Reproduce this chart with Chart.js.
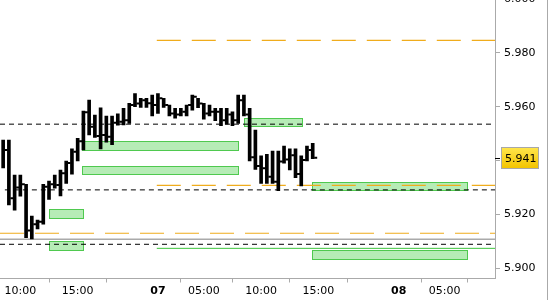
<!DOCTYPE html>
<html>
<head>
<meta charset="utf-8">
<script src="https://cdn.jsdelivr.net/npm/chart.js@4.4.1/dist/chart.umd.min.js"></script>
<style>
  html, body { margin: 0; padding: 0; background: #fff; overflow: hidden; }
  #wrap { position: absolute; left: 0; top: 0; width: 547px; height: 300px; border-right: 1px solid #aaa; }
</style>
</head>
<body>
<div id="wrap"><canvas id="chart"></canvas></div>
<script>
// half-hour bars, x in bar slots (slot 0 = 10:00 on the 6th, session gap 22:00-01:00 removed)
const firstSlot = -3;
const highs = [5.9476, 5.9476, 5.9346, 5.9346, 5.9312, 5.9194, 5.9179, 5.9312, 5.9324, 5.9346,
  5.9365, 5.9398, 5.9443, 5.9482, 5.9584, 5.9624, 5.9569, 5.9596, 5.9565, 5.9565,
  5.9573, 5.9594, 5.9612, 5.9649, 5.9631, 5.9631, 5.9643, 5.9649, 5.9631, 5.9606,
  5.9594, 5.9594, 5.9606, 5.9643, 5.9631, 5.9612, 5.9606, 5.9594, 5.9594, 5.9594,
  5.9581, 5.9643, 5.9643, 5.9594, 5.9513, 5.9417, 5.9423, 5.9435, 5.9435, 5.9454,
  5.9443, 5.9443, 5.9417, 5.9454, 5.9464];
const lows = [5.9373, 5.9235, 5.9216, 5.9268, 5.9114, 5.9109, 5.9146, 5.9164, 5.9256, 5.9297,
  5.9269, 5.9315, 5.9349, 5.9399, 5.9439, 5.9495, 5.9486, 5.9443, 5.9468, 5.9459,
  5.9531, 5.9532, 5.9538, 5.9600, 5.9597, 5.9597, 5.9566, 5.9575, 5.9597, 5.9566,
  5.9557, 5.9566, 5.9566, 5.9587, 5.9596, 5.9554, 5.9566, 5.9548, 5.9529, 5.9535,
  5.9529, 5.9538, 5.9566, 5.9399, 5.9367, 5.9315, 5.9315, 5.9315, 5.9288, 5.9390,
  5.9365, 5.9336, 5.9306, 5.9399, 5.9407];
const closes = [5.9439, 5.9260, 5.9300, 5.9312, 5.9140, 5.9163, 5.9173, 5.9303, 5.9312, 5.9309,
  5.9353, 5.9391, 5.9433, 5.9472, 5.9579, 5.9525, 5.9491, 5.9495, 5.9488, 5.9540,
  5.9544, 5.9550, 5.9606, 5.9612, 5.9624, 5.9613, 5.9606, 5.9631, 5.9606, 5.9575,
  5.9571, 5.9581, 5.9606, 5.9637, 5.9612, 5.9575, 5.9581, 5.9581, 5.9550, 5.9571,
  5.9550, 5.9624, 5.9571, 5.9412, 5.9380, 5.9371, 5.9340, 5.9321, 5.9396, 5.9404,
  5.9420, 5.9350, 5.9402, 5.9439, 5.9410];

const xMin = -3.55;
const xMax = 82.8;
const xTickSlots = [0, 10, 20, 24, 32, 42, 52, 62, 66, 74];
const xTickLabels = ["10:00", "15:00", "", "07", "05:00", "10:00", "15:00", "", "08", "05:00"];
const dayLabels = ["07", "08"];
const yTicks = [5.90, 5.92, 5.94, 5.96, 5.98, 6.00];

// horizontal levels
const blackLevels = [5.9535, 5.9291, 5.9089];
const blackStarts = [xMin, -2.7, xMin];
const orangeLevels = [5.9846, 5.9308, 5.9130];
const orangeStarts = [23.8, 23.8, xMin];
const grayLevels = [5.9108];
const grayStarts = [xMin];
const greenLevels = [5.9074];
const greenStarts = [23.8];

// zones (boxes)
const zoneFrom = [10.74, 10.74, 4.99, 4.99, 39.04, 50.9, 50.9];
const zoneTo = [37.94, 37.94, 10.86, 10.86, 49.05, 78.0, 78.0];
const zoneTop = [5.9471, 5.9378, 5.9219, 5.9100, 5.9558, 5.9319, 5.9067];
const zoneBottom = [5.9438, 5.9349, 5.9186, 5.9067, 5.9529, 5.9289, 5.9036];

const lastPrice = closes[closes.length - 1];

Chart.defaults.font.family = "'DejaVu Sans', Verdana, sans-serif";
Chart.defaults.font.size = 11;
Chart.defaults.color = "#000";

function levelSets(levels, starts, color, dash, width) {
  return levels.map((lv, i) => ({
    type: "line",
    data: [{ x: starts[i], y: lv }, { x: xMax, y: lv }],
    borderColor: color,
    borderWidth: width,
    borderDash: dash,
    pointRadius: 0,
    fill: false,
    order: 2,
  }));
}

const zonesPlugin = {
  id: "zones",
  beforeDatasetsDraw(chart) {
    const { ctx, chartArea, scales } = chart;
    ctx.save();
    ctx.beginPath();
    ctx.rect(chartArea.left, chartArea.top, chartArea.width, chartArea.height);
    ctx.clip();
    for (let i = 0; i < zoneFrom.length; i++) {
      const x1 = Math.round(scales.x.getPixelForValue(zoneFrom[i])) + 0.5;
      const x2 = Math.round(scales.x.getPixelForValue(zoneTo[i])) + 0.5;
      const y1 = Math.round(scales.y.getPixelForValue(zoneTop[i])) + 0.5;
      const y2 = Math.round(scales.y.getPixelForValue(zoneBottom[i])) + 0.5;
      ctx.fillStyle = "#b6ecb6";
      ctx.fillRect(x1, y1, x2 - x1, y2 - y1);
      ctx.strokeStyle = "#4fc94f";
      ctx.lineWidth = 1;
      ctx.strokeRect(x1, y1, x2 - x1, y2 - y1);
    }
    ctx.restore();
  },
};

const priceTagPlugin = {
  id: "priceTag",
  afterDraw(chart) {
    const { ctx, chartArea, scales } = chart;
    const y = Math.round(scales.y.getPixelForValue(lastPrice));
    const left = chartArea.right + 6;
    ctx.save();
    ctx.strokeStyle = "#000";
    ctx.lineWidth = 1;
    ctx.beginPath();
    ctx.moveTo(chartArea.right, y + 0.5);
    ctx.lineTo(chartArea.right + 5, y + 0.5);
    ctx.stroke();
    const grad = ctx.createLinearGradient(0, y - 10, 0, y + 10);
    grad.addColorStop(0, "#ffe54a");
    grad.addColorStop(1, "#f3c400");
    ctx.fillStyle = grad;
    ctx.fillRect(left + 0.5, y - 10.5, 37, 21);
    ctx.strokeStyle = "#a8a8a8";
    ctx.strokeRect(left + 0.5, y - 10.5, 37, 21);
    ctx.fillStyle = "#000";
    ctx.font = "11px 'DejaVu Sans', Verdana, sans-serif";
    ctx.textBaseline = "middle";
    ctx.fillText(lastPrice.toFixed(3), left + 4, y + 1);
    ctx.restore();
  },
};

const barData = highs.map((h, i) => ({ x: firstSlot + i, y: [lows[i], h] }));
const closeData = closes.map((c, i) => ({ x: firstSlot + i + 0.52, y: c }));

const isDay = (label) => dayLabels.includes(label);

new Chart(document.getElementById("chart"), {
  data: {
    datasets: [
      {
        type: "bar",
        data: barData,
        backgroundColor: "#000",
        borderWidth: 0,
        borderSkipped: false,
        barThickness: 3,
        order: 0,
      },
      {
        type: "scatter",
        data: closeData,
        pointStyle: "line",
        pointRadius: 1.5,
        pointHoverRadius: 1.5,
        pointBorderWidth: 2,
        borderColor: "#000",
        backgroundColor: "#000",
        order: 0,
      },
      ...levelSets(blackLevels, blackStarts, "#000", [5, 4], 1),
      ...levelSets(orangeLevels, orangeStarts, "#f0ac1c", [24, 11], 1.2),
      ...levelSets(grayLevels, grayStarts, "#aaaaaa", [], 1.5),
      ...levelSets(greenLevels, greenStarts, "#3cc43c", [], 1),
    ],
  },
  options: {
    responsive: true,
    maintainAspectRatio: false,
    animation: false,
    events: [],
    layout: { padding: 0, autoPadding: false },
    plugins: {
      legend: { display: false },
      tooltip: { enabled: false },
    },
    scales: {
      x: {
        type: "linear",
        min: xMin,
        max: xMax,
        offset: false,
        afterBuildTicks: (scale) => {
          scale.ticks = xTickSlots.map((v) => ({ value: v }));
        },
        afterFit: (scale) => {
          scale.height = 21.5;
          scale.paddingLeft = 0;
          scale.paddingRight = 0;
        },
        grid: {
          drawOnChartArea: false,
          tickLength: 4,
          color: "#aaaaaa",
          tickColor: (ctx) => (ctx.tick && isDay(ctx.tick.label) ? "rgba(0,0,0,0)" : "#aaaaaa"),
        },
        border: { color: "#aaaaaa" },
        ticks: {
          autoSkip: false,
          maxRotation: 0,
          padding: 2,
          color: "#000",
          font: (ctx) => ({
            size: 11,
            weight: ctx.tick && isDay(ctx.tick.label) ? "bold" : "normal",
          }),
          callback: (value, index) => xTickLabels[index],
        },
      },
      y: {
        type: "linear",
        position: "right",
        min: 5.8962,
        max: 5.9996,
        afterBuildTicks: (scale) => {
          scale.ticks = yTicks.map((v) => ({ value: v }));
        },
        afterFit: (scale) => {
          scale.width = 52;
          scale.paddingTop = 0;
          scale.paddingBottom = 0;
        },
        grid: {
          drawOnChartArea: false,
          tickLength: 5,
          color: "#aaaaaa",
        },
        border: { color: "#aaaaaa" },
        ticks: {
          autoSkip: false,
          padding: 4,
          color: "#000",
          callback: (value) => Number(value).toFixed(3),
        },
      },
    },
  },
  plugins: [zonesPlugin, priceTagPlugin],
});
</script>
</body>
</html>
